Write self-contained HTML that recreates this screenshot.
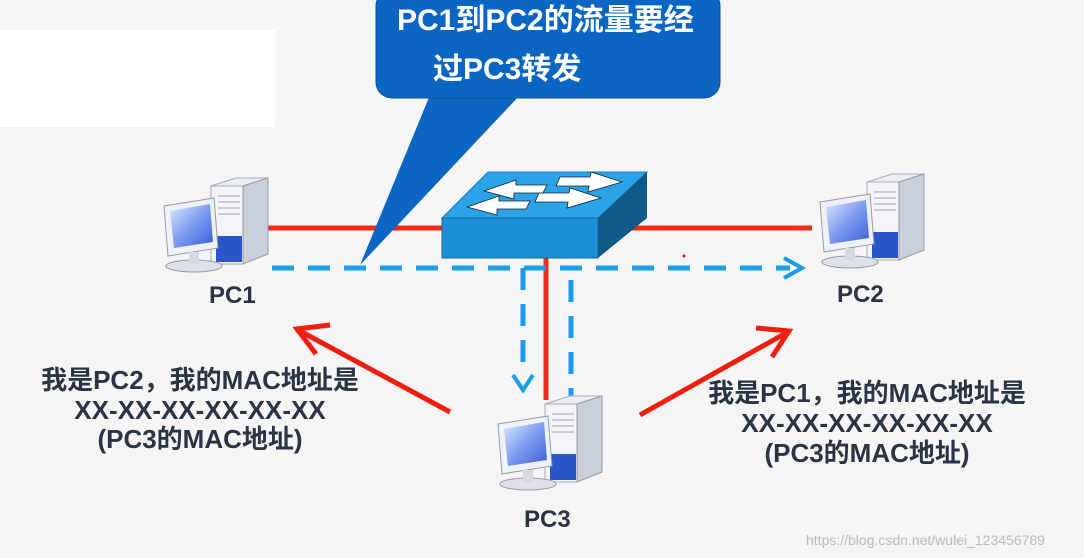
<!DOCTYPE html>
<html><head><meta charset="utf-8"><style>
body{margin:0;width:1084px;height:558px;overflow:hidden;background:#f5f5f6;font-family:"Liberation Sans","Noto Sans CJK SC",sans-serif}
.t{position:absolute;font-weight:bold;color:#2a3444;text-align:center;white-space:nowrap}
</style></head><body>
<svg width="1084" height="558" style="position:absolute;left:0;top:0">
<defs>
<linearGradient id="scr" x1="0" y1="0" x2="1" y2="1"><stop offset="0" stop-color="#dfe8ff"/><stop offset="0.5" stop-color="#7d9bf0"/><stop offset="1" stop-color="#3a5ed8"/></linearGradient>
<g id="pc">
<polygon points="55,10 80,2 112,2 87,10" fill="#e9eef3" stroke="#aab" stroke-width="1"/>
<rect x="55" y="10" width="32" height="78" fill="#f2f4f7" stroke="#aab"/>
<polygon points="87,10 112,2 112,78 87,88" fill="#c9d0da" stroke="#99a"/>
<rect x="60" y="60" width="26" height="26" fill="#2b56c9"/>
<g stroke="#bbc" stroke-width="1.5"><line x1="62" y1="20" x2="84" y2="20"/><line x1="62" y1="26" x2="84" y2="26"/><line x1="62" y1="32" x2="84" y2="32"/><line x1="62" y1="38" x2="84" y2="38"/></g>
<polygon points="8,30 58,22 62,72 12,80" fill="#eef1f5" stroke="#99a"/>
<polygon points="14,35 54,28 57,66 18,72" fill="url(#scr)"/>
<ellipse cx="38" cy="90" rx="28" ry="6" fill="#dde2e8" stroke="#99a"/>
<rect x="33" y="76" width="10" height="12" fill="#d5dae0"/>
</g>
</defs>
<rect x="0" y="30" width="275" height="97" fill="#fff"/>
<g stroke="#f32a16" stroke-width="5">
<line x1="268" y1="228" x2="445" y2="228"/><line x1="598" y1="228" x2="812" y2="228"/>
<line x1="546" y1="255" x2="546" y2="400"/>
</g>
<g stroke="#1a9ee8" stroke-width="5" stroke-dasharray="22,14" fill="none">
<line x1="272" y1="268" x2="790" y2="268"/>
<line x1="523" y1="268" x2="523" y2="375"/>
<line x1="571" y1="280" x2="571" y2="400"/>
</g>
<path d="M784,258 L802,268 L784,278" fill="none" stroke="#1a9ee8" stroke-width="4"/>
<path d="M513,375 L523,390 L533,375" fill="none" stroke="#1a9ee8" stroke-width="4"/>
<g stroke="#f01e10" stroke-width="5" fill="none">
<line x1="450" y1="412" x2="300" y2="331"/><path d="M330,325 L297,329 L316,354"/>
<line x1="640" y1="415" x2="786" y2="333"/><path d="M756,328 L789,331 L772,357"/>
</g>
<polygon points="442,218 488,172 647,172 598,218" fill="#2aa4e6" stroke="#1a7fc0"/>
<rect x="442" y="218" width="156" height="40" fill="#1c8fd6" stroke="#0f6aa6"/>
<polygon points="598,218 647,172 647,218 598,258" fill="#0f5a88"/>
<g fill="#fff" stroke="#123" stroke-width="0.8">
<polygon points="484,191 516,180 516,185 547,185 543,193 514,193 514,199"/>
<polygon points="467,207 499,196 499,201 530,201 526,209 497,209 497,215"/>
<polygon points="622,182 591,172 590,177 560,177 556,186 589,186 588,192"/>
<polygon points="601,198 570,188 569,193 539,193 535,202 568,202 567,208"/>
</g>
<polygon points="430,95 520,95 360,265" fill="#0a66c2"/>
<rect x="376" y="-10" width="344" height="108" rx="16" fill="#0a66c2" stroke="#08509a" stroke-width="1"/>
<use href="#pc" x="156" y="176"/>
<use href="#pc" x="812" y="172"/>
<use href="#pc" x="490" y="394"/>
<circle cx="684" cy="256" r="1.5" fill="#e02"/>
</svg>
<div class="t" style="left:397px;top:-5px;color:#fff;font-size:30px;text-align:left">PC1到PC2的流量要经</div>
<div class="t" style="left:433px;top:44px;color:#fff;font-size:30px;text-align:left">过PC3转发</div>
<div class="t" style="left:209px;top:282px;font-size:24px">PC1</div>
<div class="t" style="left:837px;top:281px;font-size:24px">PC2</div>
<div class="t" style="left:524px;top:506px;font-size:24px">PC3</div>
<div class="t" style="left:40px;top:366px;font-size:26px;line-height:29.5px;width:320px">我是PC2，我的MAC地址是<br>XX-XX-XX-XX-XX-XX<br>(PC3的MAC地址)</div>
<div class="t" style="left:706px;top:378px;font-size:26px;line-height:30px;width:322px">我是PC1，我的MAC地址是<br>XX-XX-XX-XX-XX-XX<br>(PC3的MAC地址)</div>
<div style="position:absolute;left:806px;top:532px;font-size:14px;color:#bbb;font-family:'Liberation Sans',sans-serif">https://blog.csdn.net/wulei_123456789</div>
</body></html>
